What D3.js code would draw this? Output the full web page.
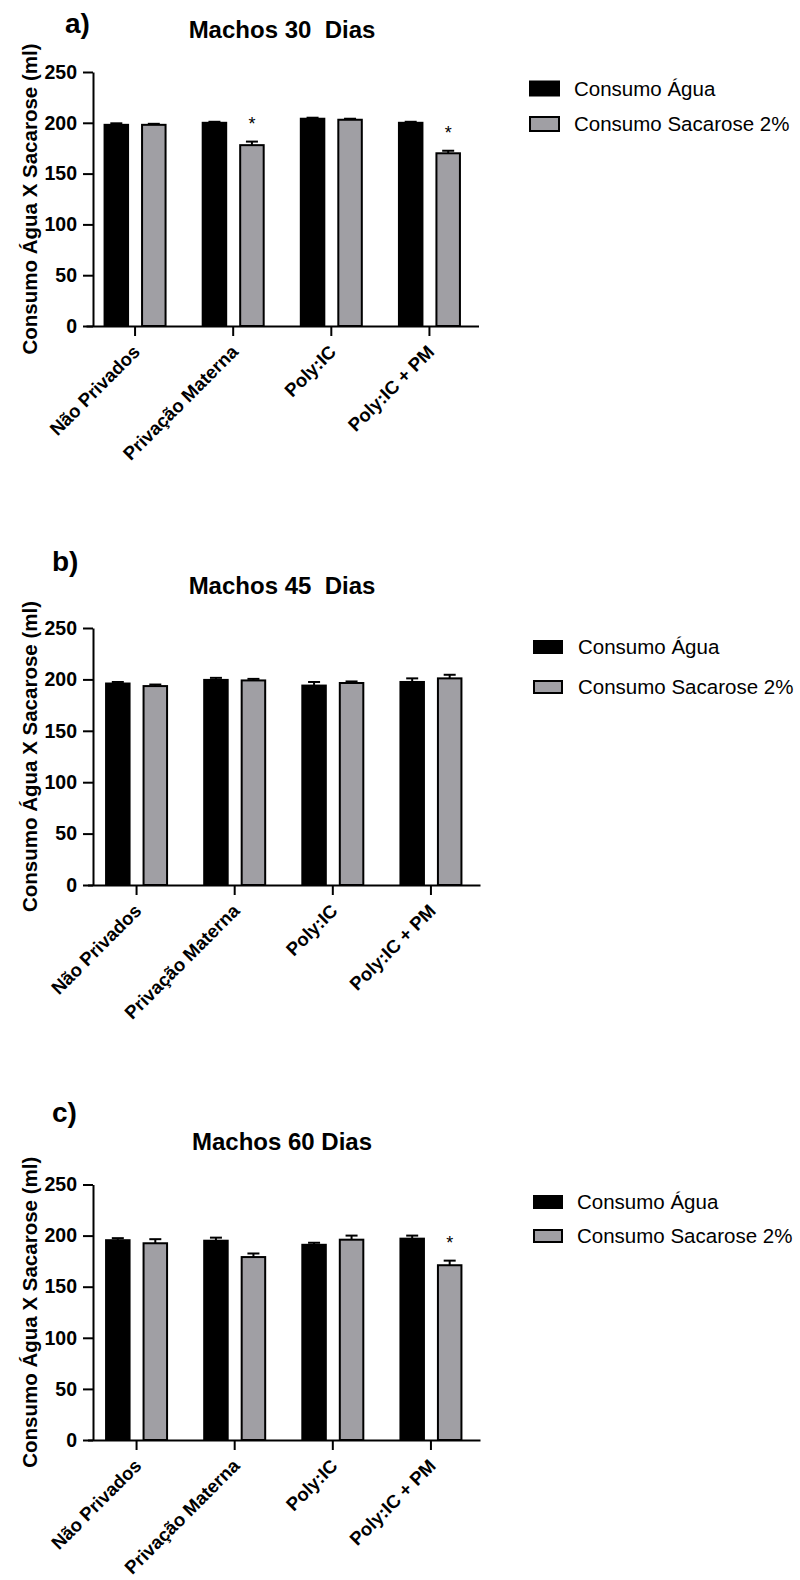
<!DOCTYPE html>
<html>
<head>
<meta charset="utf-8">
<script src="https://cdn.jsdelivr.net/npm/d3@7"></script>
<style>
  body { margin: 0; background: #fff; }
  svg { display: block; }
  text { font-family: "Liberation Sans", Arial, sans-serif; fill: #000; }
</style>
</head>
<body>
<svg id="chart" width="800" height="1580"></svg>
<script>
// Groups and series
const categories = ["Não Privados", "Privação Materna", "Poly:IC", "Poly:IC + PM"];
const seriesNames = ["Consumo Água", "Consumo Sacarose 2%"];
const yTicks = [0, 50, 100, 150, 200, 250];
const yLabel = "Consumo Água X Sacarose (ml)";
const titles = ["Machos 30  Dias", "Machos 45  Dias", "Machos 60 Dias"];
const panelLetters = ["a)", "b)", "c)"];

// 30 days (mean and SEM)
const agua30 = [198, 200, 204, 200];
const aguaErr30 = [1.5, 1, 1, 1];
const sacarose30 = [198, 178, 203, 170];
const sacaroseErr30 = [1, 3.5, 1, 2.5];
const stars30 = [false, true, false, true];

// 45 days
const agua45 = [196, 199.5, 194, 197.5];
const aguaErr45 = [1.5, 2, 3.5, 3.5];
const sacarose45 = [193.5, 199, 196.5, 201];
const sacaroseErr45 = [1.5, 1.5, 1.5, 3.5];
const stars45 = [false, false, false, false];

// 60 days
const agua60 = [195.5, 195, 191, 197];
const aguaErr60 = [2, 3, 2, 3];
const sacarose60 = [192.5, 179, 196, 171];
const sacaroseErr60 = [4, 3.5, 4, 4.5];
const stars60 = [false, false, false, true];

const colors = { "Consumo Água": "#000000", "Consumo Sacarose 2%": "#a09fa4" };

const panels = [
  { letter: panelLetters[0], title: titles[0], agua: agua30, aguaErr: aguaErr30,
    sac: sacarose30, sacErr: sacaroseErr30, stars: stars30,
    box: { y0: 326, y1: 72, x0: 86, x1: 478.5, letterX: 65, letterY: 33, titleY: 38,
           legX: 530, legTextX: 574, legRows: [88.5, 124], swW: 29, swH: 14 } },
  { letter: panelLetters[1], title: titles[1], agua: agua45, aguaErr: aguaErr45,
    sac: sacarose45, sacErr: sacaroseErr45, stars: stars45,
    box: { y0: 885, y1: 628, x0: 87.5, x1: 480, letterX: 52, letterY: 571, titleY: 594,
           legX: 534, legTextX: 578, legRows: [647, 687], swW: 28, swH: 12 } },
  { letter: panelLetters[2], title: titles[2], agua: agua60, aguaErr: aguaErr60,
    sac: sacarose60, sacErr: sacaroseErr60, stars: stars60,
    box: { y0: 1440, y1: 1184.5, x0: 87.5, x1: 480, letterX: 52, letterY: 1122, titleY: 1150,
           legX: 534, legTextX: 577, legRows: [1202, 1236], swW: 28, swH: 12 } }
];

const svg = d3.select("#chart");
const axisX = 93;

panels.forEach(p => {
  const b = p.box;
  const g = svg.append("g");

  const y = d3.scaleLinear().domain([0, 250]).range([b.y0, b.y1]);
  const x = d3.scaleBand().domain(categories).range([b.x0, b.x1]);
  const xs = d3.scaleBand().domain(seriesNames).range([-30.5, 30.5]).paddingInner(0.373);

  // panel letter and title
  g.append("text").attr("x", b.letterX).attr("y", b.letterY)
    .style("font-size", "28px").style("font-weight", "bold").text(p.letter);
  g.append("text").attr("x", 282).attr("y", b.titleY).attr("text-anchor", "middle")
    .style("font-size", "24px").style("font-weight", "bold").style("white-space", "pre")
    .attr("xml:space", "preserve").text(p.title);

  // y axis
  const ya = g.append("g").attr("transform", `translate(${axisX},0)`)
    .call(d3.axisLeft(y).tickValues(yTicks).tickSize(10).tickSizeOuter(0).tickPadding(6));
  ya.selectAll("path, line").attr("stroke", "#000").attr("stroke-width", 2);
  ya.selectAll("text").style("font-size", "19.5px").style("font-weight", "bold")
    .style("font-family", "'Liberation Sans', Arial, sans-serif").attr("fill", "#000");

  g.append("text")
    .attr("transform", `translate(37,${(b.y0 + b.y1) / 2}) rotate(-90)`)
    .attr("text-anchor", "middle")
    .style("font-size", "20.5px").style("font-weight", "bold")
    .text(yLabel);

  // bars
  const rows = categories.map((c, i) => ([
    { cat: c, s: seriesNames[0], v: p.agua[i], e: p.aguaErr[i], star: false },
    { cat: c, s: seriesNames[1], v: p.sac[i], e: p.sacErr[i], star: p.stars[i] }
  ])).flat();

  const cx = d => x(d.cat) + x.bandwidth() / 2 + xs(d.s) + xs.bandwidth() / 2;

  g.append("g").selectAll("rect").data(rows).join("rect")
    .attr("x", d => x(d.cat) + x.bandwidth() / 2 + xs(d.s))
    .attr("width", xs.bandwidth())
    .attr("y", d => y(d.v))
    .attr("height", d => y(0) - y(d.v))
    .attr("fill", d => colors[d.s])
    .attr("stroke", "#000").attr("stroke-width", 2);

  // error bars (upper SEM)
  const eb = g.append("g").attr("stroke", "#000").attr("stroke-width", 2);
  eb.selectAll(".stem").data(rows).join("line").attr("class", "stem")
    .attr("x1", cx).attr("x2", cx)
    .attr("y1", d => y(d.v)).attr("y2", d => y(d.v + d.e));
  eb.selectAll(".cap").data(rows).join("line").attr("class", "cap")
    .attr("x1", d => cx(d) - 6).attr("x2", d => cx(d) + 6)
    .attr("y1", d => y(d.v + d.e)).attr("y2", d => y(d.v + d.e));

  // significance marks
  g.append("g").selectAll("text").data(rows.filter(d => d.star)).join("text")
    .attr("x", cx).attr("y", d => y(d.v + d.e) - 12)
    .attr("text-anchor", "middle")
    .style("font-size", "18px")
    .text("*");

  // x axis
  const xa = g.append("g").attr("transform", `translate(0,${b.y0})`)
    .call(d3.axisBottom(x).tickSize(10).tickSizeOuter(0));
  xa.selectAll("path, line").attr("stroke", "#000").attr("stroke-width", 2);
  xa.selectAll("text")
    .attr("x", 0).attr("y", 0).attr("dy", 0)
    .attr("transform", "translate(6,27) rotate(-45)")
    .style("text-anchor", "end")
    .style("font-size", "18.5px").style("font-weight", "bold")
    .style("font-family", "'Liberation Sans', Arial, sans-serif").attr("fill", "#000");

  // legend
  const lg = g.append("g");
  seriesNames.forEach((s, i) => {
    lg.append("rect").attr("x", b.legX).attr("y", b.legRows[i] - b.swH / 2)
      .attr("width", b.swW).attr("height", b.swH)
      .attr("fill", colors[s]).attr("stroke", "#000").attr("stroke-width", 2);
    lg.append("text").attr("x", b.legTextX).attr("y", b.legRows[i])
      .attr("dy", "0.35em").style("font-size", "20.5px").text(s);
  });
});
</script>
</body>
</html>
